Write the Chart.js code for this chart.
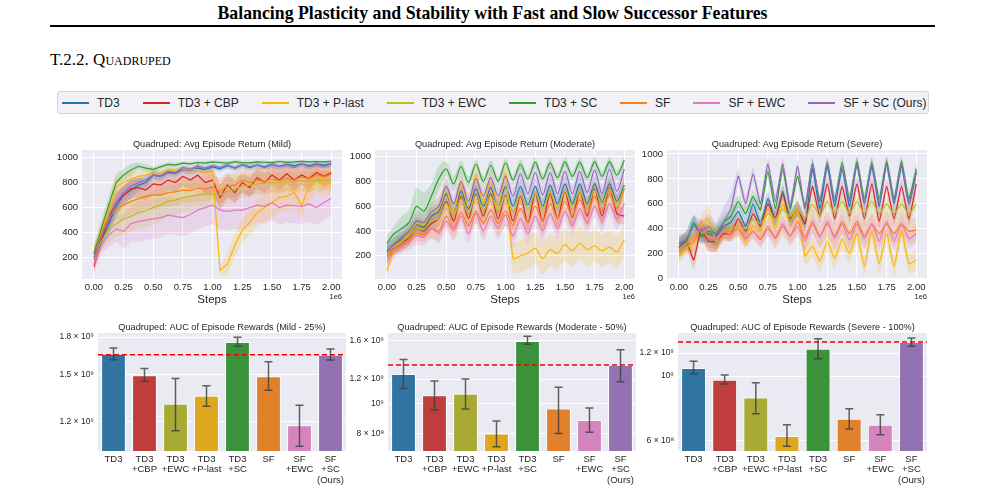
<!DOCTYPE html>
<html>
<head>
<meta charset="utf-8">
<script src="https://cdn.jsdelivr.net/npm/chart.js@4.4.1/dist/chart.umd.min.js"></script>
<style>
    body { margin: 0; width: 985px; height: 502px; background: #fff; position: relative; overflow: hidden; font-family: 'Liberation Sans', Arial, sans-serif; }
    #head { position: absolute; left: 0; width: 985px; top: 3px; text-align: center; font: bold 17.8px 'Liberation Serif', serif; color: #000; }
    #rule { position: absolute; left: 50px; width: 885px; top: 25px; height: 2px; background: #000; }
    #sec { position: absolute; left: 50px; top: 50px; font: 17px 'Liberation Serif', serif; font-variant: small-caps; color: #000; }
    #legend { position: absolute; left: 57px; top: 91px; width: 872px; height: 23px; background: #f2f2f6; border: 1px solid #d4d4d8; border-radius: 3px; display: flex; align-items: center; padding-left: 4px; box-sizing: border-box; }
    .item { display: flex; align-items: center; margin-right: 23px; font-size: 12px; color: #262626; white-space: nowrap; flex-shrink: 0; }
    .swatch { width: 27px; height: 2px; margin-right: 8px; flex-shrink: 0; }
    .box { position: absolute; }
</style>
</head>
<body>
<div id="head">Balancing Plasticity and Stability with Fast and Slow Successor Features</div>
<div id="rule"></div>
<div id="sec">T.2.2. Quadruped</div>
<div id="legend"></div>

<div class="box" style="left:42px;top:135px;"><canvas id="retMild" width="310" height="175"></canvas></div>
<div class="box" style="left:335px;top:135px;"><canvas id="retModerate" width="310" height="175"></canvas></div>
<div class="box" style="left:627px;top:135px;"><canvas id="retSevere" width="310" height="175"></canvas></div>
<div class="box" style="left:48px;top:318px;"><canvas id="aucMild" width="306" height="180"></canvas></div>
<div class="box" style="left:338px;top:318px;"><canvas id="aucModerate" width="306" height="180"></canvas></div>
<div class="box" style="left:628px;top:318px;"><canvas id="aucSevere" width="307" height="180"></canvas></div>

<script>
// Series (legend order)
const seriesNames = ['TD3', 'TD3 + CBP', 'TD3 + P-last', 'TD3 + EWC', 'TD3 + SC', 'SF', 'SF + EWC', 'SF + SC (Ours)'];
const lineColors = ['#1f77b4', '#d62728', '#ffb400', '#bcbd22', '#2ca02c', '#ff7f0e', '#e377c2', '#9467bd'];

// Steps (x, in units of 1e6)
const steps = [0, 0.0625, 0.125, 0.1875, 0.25, 0.3125, 0.375, 0.4375, 0.5, 0.5625, 0.625, 0.6875, 0.75, 0.8125, 0.875, 0.9375,
    1.0, 1.0625, 1.125, 1.1875, 1.25, 1.3125, 1.375, 1.4375, 1.5, 1.5625, 1.625, 1.6875, 1.75, 1.8125, 1.875, 1.9375, 2.0];
const xTickVals = [0, 0.25, 0.5, 0.75, 1.0, 1.25, 1.5, 1.75, 2.0];
const yTickReturn = [200, 400, 600, 800, 1000];
const yTickSevere = [0, 200, 400, 600, 800, 1000];

// Avg episode return - Mild (mean, then spread every 0.125e6)
const mildTd3 = [220, 340, 470, 610, 700, 740, 780, 800, 860, 850, 880, 875, 905, 895, 915, 905, 925, 910, 935, 915, 940, 920, 940, 925, 945, 930, 945, 935, 950, 935, 950, 940, 950];
const mildCbp = [130, 330, 520, 640, 700, 750, 760, 740, 790, 780, 820, 800, 850, 820, 860, 800, 820, 680, 780, 720, 800, 760, 840, 800, 860, 820, 870, 820, 860, 830, 880, 850, 880];
const mildPlast = [250, 420, 560, 760, 800, 830, 850, 860, 880, 870, 900, 890, 910, 900, 905, 880, 890, 100, 150, 300, 420, 480, 560, 600, 640, 680, 690, 720, 620, 760, 820, 790, 800];
const mildEwc = [200, 330, 420, 470, 510, 530, 560, 575, 600, 620, 650, 660, 680, 690, 700, 710, 705, 700, 730, 750, 770, 780, 790, 795, 800, 800, 810, 805, 815, 805, 820, 815, 825];
const mildSc = [230, 430, 620, 800, 860, 900, 930, 915, 905, 925, 945, 940, 955, 950, 960, 955, 965, 960, 955, 965, 960, 958, 965, 962, 960, 968, 962, 965, 970, 965, 968, 965, 970];
const mildSf = [180, 400, 520, 590, 620, 650, 670, 690, 700, 700, 720, 725, 740, 735, 755, 750, 765, 730, 770, 780, 820, 800, 820, 810, 830, 815, 835, 820, 845, 830, 860, 845, 865];
const mildSfEwc = [150, 300, 380, 430, 410, 470, 490, 500, 510, 520, 540, 530, 520, 545, 580, 600, 620, 580, 570, 580, 580, 600, 620, 610, 640, 600, 620, 615, 610, 630, 600, 640, 675];
const mildSfSc = [200, 370, 500, 640, 720, 770, 800, 820, 860, 850, 890, 880, 920, 905, 930, 915, 935, 920, 940, 915, 945, 925, 940, 920, 945, 925, 945, 920, 950, 925, 945, 930, 950];
const mildTd3Sd = [70, 90, 70, 50, 40, 35, 30, 30, 25, 25, 25, 25, 25, 25, 25, 25, 25];
const mildCbpSd = [50, 90, 80, 80, 90, 80, 80, 90, 100, 90, 80, 80, 80, 80, 80, 80, 80];
const mildPlastSd = [60, 90, 60, 40, 30, 30, 25, 30, 40, 90, 100, 110, 120, 120, 110, 100, 90];
const mildEwcSd = [70, 100, 120, 130, 130, 120, 120, 110, 100, 100, 90, 90, 80, 80, 80, 80, 80];
const mildScSd = [70, 70, 50, 30, 20, 20, 15, 15, 15, 15, 15, 12, 12, 12, 12, 10, 10];
const mildSfSd = [60, 90, 100, 100, 110, 110, 100, 100, 100, 100, 100, 100, 100, 100, 100, 100, 100];
const mildSfEwcSd = [70, 100, 140, 160, 160, 150, 150, 150, 150, 150, 150, 140, 140, 140, 140, 140, 140];
const mildSfScSd = [60, 80, 60, 40, 30, 25, 20, 20, 20, 20, 20, 20, 20, 20, 20, 20, 20];

// Avg episode return - Moderate
const modTd3 = [240, 290, 330, 380, 450, 430, 520, 560, 700, 560, 720, 580, 740, 600, 750, 600, 760, 600, 760, 610, 760, 600, 770, 620, 780, 620, 780, 620, 780, 630, 780, 640, 770];
const modCbp = [230, 260, 300, 350, 420, 400, 460, 500, 640, 480, 680, 500, 700, 520, 700, 500, 690, 480, 680, 470, 700, 480, 700, 500, 720, 510, 720, 520, 740, 520, 750, 540, 520];
const modPlast = [80, 250, 320, 380, 460, 450, 540, 580, 720, 560, 780, 600, 850, 620, 800, 600, 860, 180, 200, 220, 260, 180, 250, 220, 290, 240, 300, 250, 280, 240, 270, 230, 330];
const modEwc = [220, 280, 320, 360, 420, 410, 480, 500, 620, 520, 660, 540, 690, 560, 680, 560, 680, 560, 690, 580, 700, 580, 710, 590, 720, 600, 720, 600, 730, 620, 740, 620, 750];
const modSc = [300, 380, 420, 470, 600, 560, 680, 820, 900, 780, 920, 790, 940, 800, 930, 800, 950, 810, 940, 820, 955, 820, 950, 830, 960, 840, 955, 830, 960, 840, 960, 850, 970];
const modSf = [200, 260, 300, 330, 380, 370, 420, 400, 520, 420, 550, 440, 560, 460, 570, 460, 560, 450, 580, 470, 600, 480, 620, 500, 640, 520, 650, 540, 680, 560, 700, 580, 740];
const modSfEwc = [150, 240, 280, 310, 360, 350, 420, 380, 480, 400, 520, 380, 540, 400, 520, 420, 530, 360, 500, 380, 520, 400, 540, 420, 560, 440, 580, 460, 600, 480, 620, 500, 620];
const modSfSc = [230, 300, 350, 400, 480, 470, 550, 600, 760, 620, 800, 640, 820, 680, 830, 680, 840, 680, 860, 700, 870, 690, 870, 700, 880, 700, 880, 710, 890, 700, 900, 720, 900];
const modTd3Sd = [60, 60, 60, 70, 70, 60, 60, 60, 60, 60, 60, 60, 60, 60, 60, 60, 60];
const modCbpSd = [50, 60, 60, 60, 70, 70, 70, 70, 70, 70, 70, 70, 70, 70, 70, 70, 70];
const modPlastSd = [50, 60, 70, 80, 100, 100, 100, 100, 120, 130, 130, 130, 130, 130, 130, 130, 130];
const modEwcSd = [50, 60, 60, 60, 70, 70, 70, 70, 70, 70, 70, 70, 70, 70, 70, 70, 70];
const modScSd = [60, 100, 150, 100, 60, 50, 40, 40, 40, 40, 40, 40, 40, 40, 40, 40, 40];
const modSfSd = [50, 60, 60, 80, 80, 80, 100, 100, 120, 120, 120, 120, 120, 120, 120, 120, 120];
const modSfEwcSd = [60, 60, 70, 80, 80, 80, 80, 80, 90, 90, 90, 90, 90, 90, 90, 90, 90];
const modSfScSd = [60, 80, 80, 80, 70, 70, 70, 70, 70, 70, 70, 70, 70, 70, 70, 70, 70];

// Avg episode return - Severe
const sevTd3 = [280, 300, 440, 340, 360, 340, 420, 450, 540, 420, 600, 440, 640, 480, 700, 480, 560, 440, 880, 560, 900, 580, 880, 580, 920, 600, 900, 580, 920, 600, 900, 600, 850];
const sevCbp = [250, 300, 150, 400, 300, 300, 360, 360, 480, 380, 520, 420, 600, 480, 680, 460, 560, 440, 740, 500, 760, 480, 740, 500, 760, 480, 760, 460, 740, 480, 740, 480, 760];
const sevPlast = [180, 250, 280, 420, 480, 300, 380, 360, 400, 300, 420, 380, 560, 400, 600, 460, 560, 180, 260, 140, 300, 160, 320, 200, 360, 100, 380, 120, 360, 100, 380, 120, 150];
const sevEwc = [230, 280, 350, 380, 340, 320, 380, 400, 420, 400, 480, 440, 520, 480, 560, 500, 560, 480, 600, 500, 620, 520, 620, 520, 620, 520, 620, 520, 600, 520, 600, 520, 600];
const sevSc = [250, 300, 450, 350, 380, 360, 450, 500, 620, 520, 660, 550, 860, 560, 880, 560, 820, 580, 920, 620, 930, 630, 930, 640, 940, 640, 930, 640, 940, 640, 940, 640, 880];
const sevSf = [220, 260, 300, 400, 320, 320, 380, 380, 400, 320, 380, 320, 420, 320, 420, 340, 460, 330, 460, 340, 440, 340, 460, 360, 460, 340, 440, 360, 440, 360, 440, 380, 390];
const sevSfEwc = [240, 280, 330, 420, 330, 320, 380, 360, 400, 320, 380, 310, 400, 330, 440, 340, 420, 300, 440, 330, 460, 320, 440, 310, 440, 320, 440, 300, 460, 300, 440, 320, 360];
const sevSfSc = [280, 320, 420, 380, 420, 350, 450, 560, 820, 600, 840, 600, 920, 620, 920, 580, 900, 560, 920, 620, 920, 620, 900, 620, 920, 600, 920, 600, 920, 620, 920, 600, 860];
const sevTd3Sd = [70, 60, 70, 60, 60, 60, 60, 60, 60, 60, 60, 60, 60, 60, 60, 60, 60];
const sevCbpSd = [60, 70, 80, 60, 60, 60, 60, 60, 60, 60, 60, 60, 60, 60, 60, 60, 60];
const sevPlastSd = [60, 80, 100, 60, 60, 60, 60, 60, 80, 80, 80, 80, 80, 80, 80, 80, 80];
const sevEwcSd = [60, 60, 80, 60, 60, 60, 60, 60, 60, 60, 60, 60, 60, 60, 60, 60, 60];
const sevScSd = [80, 60, 80, 60, 50, 50, 50, 50, 50, 50, 50, 50, 50, 50, 50, 50, 50];
const sevSfSd = [60, 80, 100, 60, 60, 60, 80, 80, 100, 100, 100, 100, 100, 100, 100, 100, 100];
const sevSfEwcSd = [60, 60, 80, 60, 60, 60, 60, 60, 80, 80, 80, 80, 80, 80, 80, 80, 80];
const sevSfScSd = [60, 90, 100, 120, 60, 60, 60, 50, 50, 50, 50, 50, 50, 50, 50, 50, 50];

// AUC bar charts (bar order)
const barLabels = [['TD3'], ['TD3', '+CBP'], ['TD3', '+EWC'], ['TD3', '+P-last'], ['TD3', '+SC'], ['SF'], ['SF', '+EWC'], ['SF', '+SC', '(Ours)']];
const barColors = ['#3274a1', '#c03d3e', '#a9aa35', '#dfa620', '#3a923a', '#e1812c', '#d684bd', '#9372b2'];

const aucMild = [1.66e9, 1.497e9, 1.306e9, 1.357e9, 1.757e9, 1.49e9, 1.177e9, 1.653e9];
const aucMildLo = [1.614e9, 1.455e9, 1.147e9, 1.29e9, 1.721e9, 1.393e9, 1.064e9, 1.611e9];
const aucMildHi = [1.707e9, 1.546e9, 1.474e9, 1.424e9, 1.798e9, 1.598e9, 1.296e9, 1.699e9];
const aucMildTicks = [1.2e9, 1.5e9, 1.8e9];
const aucMildTickLabels = ['1.2 × 10⁹', '1.5 × 10⁹', '1.8 × 10⁹'];

const aucMod = [1.245e9, 1.064e9, 1.075e9, 8.0e8, 1.592e9, 9.65e8, 8.85e8, 1.332e9];
const aucModLo = [1.118e9, 9.54e8, 9.61e8, 7.26e8, 1.553e9, 8.0e8, 8.08e8, 1.177e9];
const aucModHi = [1.388e9, 1.182e9, 1.2e9, 8.78e8, 1.649e9, 1.13e9, 9.68e8, 1.491e9];
const aucModTicks = [8e8, 1e9, 1.2e9, 1.6e9];
const aucModTickLabels = ['8 × 10⁸', '10⁹', '1.2 × 10⁹', '1.6 × 10⁹'];

const aucSev = [1.066e9, 9.72e8, 8.45e8, 6.23e8, 1.242e9, 7.14e8, 6.81e8, 1.309e9];
const aucSevLo = [1.016e9, 9.39e8, 7.43e8, 5.74e8, 1.147e9, 6.58e8, 6.29e8, 1.266e9];
const aucSevHi = [1.124e9, 1.008e9, 9.49e8, 6.81e8, 1.344e9, 7.72e8, 7.37e8, 1.351e9];
const aucSevTicks = [6e8, 1e9, 1.2e9];
const aucSevTickLabels = ['6 × 10⁸', '10⁹', '1.2 × 10⁹'];

// Chart.js defaults
Chart.defaults.font.family = "'Liberation Sans', Arial, sans-serif";
Chart.defaults.color = '#262626';
const textColor = '#262626';

// Legend
const legendEl = document.getElementById('legend');
seriesNames.forEach((name, i) => {
    const item = document.createElement('div');
    item.className = 'item';
    item.innerHTML = '<span class="swatch" style="background:' + lineColors[i] + '"></span>' + name;
    legendEl.appendChild(item);
});

function withAlpha(hex, a) {
    const n = parseInt(hex.slice(1), 16);
    return 'rgba(' + (n >> 16) + ',' + ((n >> 8) & 255) + ',' + (n & 255) + ',' + a + ')';
}

// Grey plot background, title, offset text
const panelPlugin = {
    id: 'panel',
    beforeDraw(chart, args, opts) {
        const a = chart.chartArea;
        const ctx = chart.ctx;
        ctx.save();
        ctx.fillStyle = '#eaeaf2';
        ctx.fillRect(a.left, a.top, a.right - a.left, a.bottom - a.top);
        ctx.restore();
    },
    afterDraw(chart, args, opts) {
        const a = chart.chartArea;
        const ctx = chart.ctx;
        ctx.save();
        ctx.fillStyle = textColor;
        ctx.font = "9.2px 'Liberation Sans', Arial, sans-serif";
        ctx.textAlign = 'center';
        ctx.textBaseline = 'bottom';
        ctx.fillText(opts.title, (a.left + a.right) / 2, a.top - 1);
        if (opts.offsetText) {
            ctx.font = "7.5px 'Liberation Sans', Arial, sans-serif";
            ctx.textAlign = 'right';
            ctx.textBaseline = 'top';
            ctx.fillText(opts.offsetText, a.right, a.bottom + 14);
        }
        ctx.restore();
    }
};

// Reference line + error bars for the AUC charts
const errorPlugin = {
    id: 'errs',
    afterDatasetsDraw(chart, args, opts) {
        if (!opts.lo) return;
        const ctx = chart.ctx;
        const xs = chart.scales.x, ys = chart.scales.y;
        const a = chart.chartArea;
        ctx.save();
        const yRef = ys.getPixelForValue(opts.ref);
        ctx.strokeStyle = '#f00000';
        ctx.lineWidth = 1.4;
        ctx.setLineDash([5, 3]);
        ctx.beginPath();
        ctx.moveTo(a.left, yRef);
        ctx.lineTo(a.right, yRef);
        ctx.stroke();
        ctx.setLineDash([]);
        ctx.strokeStyle = 'rgba(60,60,60,0.8)';
        ctx.lineWidth = 1.5;
        opts.lo.forEach((lo, i) => {
            const x = xs.getPixelForValue(i);
            const y1 = ys.getPixelForValue(lo);
            const y2 = ys.getPixelForValue(opts.hi[i]);
            ctx.beginPath();
            ctx.moveTo(x, y1); ctx.lineTo(x, y2);
            ctx.moveTo(x - 4, y1); ctx.lineTo(x + 4, y1);
            ctx.moveTo(x - 4, y2); ctx.lineTo(x + 4, y2);
            ctx.stroke();
        });
        ctx.restore();
    }
};

function returnChart(id, title, means, spreads, yMin, yMax, yTicks, tension) {
    const datasets = [];
    means.forEach((mean, i) => {
        const sd = spreads[i];
        datasets.push({
            data: mean.map((v, j) => ({ x: steps[j], y: v - sd[Math.floor(j / 2)] })),
            borderWidth: 0, pointRadius: 0, fill: false, order: 100, tension: tension
        });
        datasets.push({
            data: mean.map((v, j) => ({ x: steps[j], y: v + sd[Math.floor(j / 2)] })),
            borderWidth: 0, pointRadius: 0, fill: '-1', backgroundColor: withAlpha(lineColors[i], 0.18), order: 100, tension: tension
        });
    });
    means.forEach((mean, i) => {
        datasets.push({
            label: seriesNames[i],
            data: mean.map((v, j) => ({ x: steps[j], y: v })),
            borderColor: lineColors[i], borderWidth: 1.2, pointRadius: 0, fill: false, order: 8 - i, tension: tension
        });
    });

    return new Chart(document.getElementById(id), {
        type: 'line',
        data: { datasets: datasets },
        options: {
            responsive: false,
            animation: false,
            layout: { padding: { top: 15, right: 10, left: 0, bottom: 0 } },
            plugins: {
                legend: { display: false },
                tooltip: { enabled: false },
                panel: { title: title, offsetText: '1e6' }
            },
            scales: {
                x: {
                    type: 'linear', min: -0.1, max: 2.09,
                    afterBuildTicks: s => { s.ticks = xTickVals.map(v => ({ value: v })); },
                    afterFit: s => { s.height = 31; },
                    ticks: { callback: v => v.toFixed(2), font: { size: 9.5 }, color: textColor, padding: 3, maxRotation: 0, autoSkip: false },
                    grid: { color: '#ffffff', lineWidth: 1, drawTicks: false },
                    border: { display: false },
                    title: { display: true, text: 'Steps', font: { size: 11.5 }, color: textColor, padding: { top: 0, bottom: 3 } }
                },
                y: {
                    type: 'linear', min: yMin, max: yMax,
                    afterBuildTicks: s => { s.ticks = yTicks.map(v => ({ value: v })); },
                    afterFit: s => { s.width = 40; },
                    ticks: { callback: v => String(v), font: { size: 9.5 }, color: textColor, padding: 4 },
                    grid: { color: '#ffffff', lineWidth: 1, drawTicks: false },
                    border: { display: false }
                }
            }
        },
        plugins: [panelPlugin]
    });
}

function aucChart(id, title, values, lo, hi, ref, yMin, yMax, ticks, tickLabels) {
    return new Chart(document.getElementById(id), {
        type: 'bar',
        data: {
            labels: barLabels,
            datasets: [{
                data: values,
                backgroundColor: barColors,
                borderColor: 'rgba(255,255,255,0.85)',
                borderWidth: 1,
                barPercentage: 0.8,
                categoryPercentage: 1.0
            }]
        },
        options: {
            responsive: false,
            animation: false,
            layout: { padding: { top: 15, right: 8, left: 0, bottom: 0 } },
            plugins: {
                legend: { display: false },
                tooltip: { enabled: false },
                panel: { title: title },
                errs: { lo: lo, hi: hi, ref: ref }
            },
            scales: {
                x: {
                    afterFit: s => { s.height = 47; },
                    ticks: { font: { size: 9.5, lineHeight: 1.1 }, color: textColor, padding: 3, maxRotation: 0, autoSkip: false },
                    grid: { display: false, drawTicks: false },
                    border: { display: false }
                },
                y: {
                    type: 'logarithmic', min: yMin, max: yMax,
                    afterBuildTicks: s => { s.ticks = ticks.map(v => ({ value: v })); },
                    afterFit: s => { s.width = 50; },
                    ticks: { callback: (v, i) => tickLabels[i], font: { size: 8.5 }, color: textColor, padding: 4 },
                    grid: { color: '#ffffff', lineWidth: 1, drawTicks: false },
                    border: { display: false }
                }
            }
        },
        plugins: [panelPlugin, errorPlugin]
    });
}

returnChart('retMild', 'Quadruped: Avg Episode Return (Mild)',
    [mildTd3, mildCbp, mildPlast, mildEwc, mildSc, mildSf, mildSfEwc, mildSfSc],
    [mildTd3Sd, mildCbpSd, mildPlastSd, mildEwcSd, mildScSd, mildSfSd, mildSfEwcSd, mildSfScSd],
    30, 1060, yTickReturn, 0);
returnChart('retModerate', 'Quadruped: Avg Episode Return (Moderate)',
    [modTd3, modCbp, modPlast, modEwc, modSc, modSf, modSfEwc, modSfSc],
    [modTd3Sd, modCbpSd, modPlastSd, modEwcSd, modScSd, modSfSd, modSfEwcSd, modSfScSd],
    13, 1053, yTickReturn, 0.3);
returnChart('retSevere', 'Quadruped: Avg Episode Return (Severe)',
    [sevTd3, sevCbp, sevPlast, sevEwc, sevSc, sevSf, sevSfEwc, sevSfSc],
    [sevTd3Sd, sevCbpSd, sevPlastSd, sevEwcSd, sevScSd, sevSfSd, sevSfEwcSd, sevSfScSd],
    -3, 1032, yTickSevere, 0.15);

aucChart('aucMild', 'Quadruped: AUC of Episode Rewards (Mild - 25%)',
    aucMild, aucMildLo, aucMildHi, aucMild[7], 1.04e9, 1.835e9, aucMildTicks, aucMildTickLabels);
aucChart('aucModerate', 'Quadruped: AUC of Episode Rewards (Moderate - 50%)',
    aucMod, aucModLo, aucModHi, aucMod[7], 7.03e8, 1.69e9, aucModTicks, aucModTickLabels);
aucChart('aucSevere', 'Quadruped: AUC of Episode Rewards (Severe - 100%)',
    aucSev, aucSevLo, aucSevHi, aucSev[7], 5.53e8, 1.406e9, aucSevTicks, aucSevTickLabels);
</script>
</body>
</html>
